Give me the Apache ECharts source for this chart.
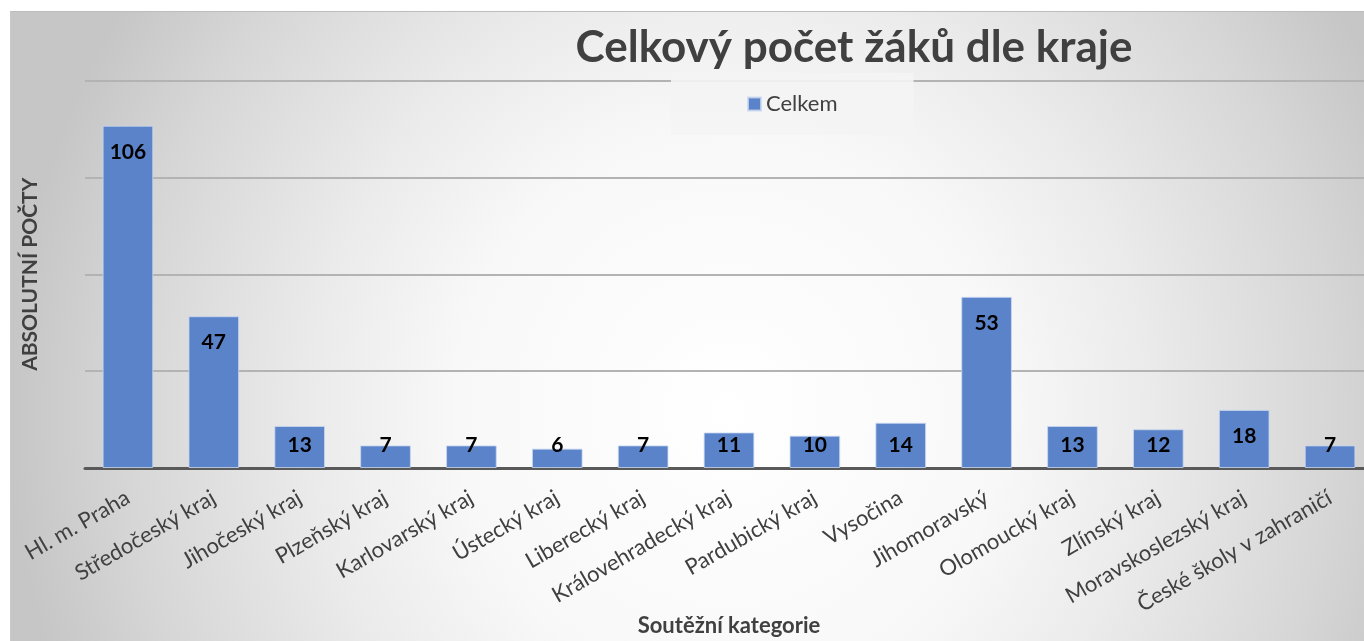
<!DOCTYPE html>
<html>
<head>
<meta charset="utf-8">
<script src="https://cdn.jsdelivr.net/npm/echarts@6/dist/echarts.min.js"></script>
<style>
html,body{margin:0;padding:0;width:1364px;height:641px;overflow:hidden;background:#fff;}
#chart{position:absolute;left:10px;top:11px;width:1364px;height:630px;
background:radial-gradient(ellipse 720px 750px at 720px 400px, #ffffff 0%, #f8f8f8 38%, #ebebeb 58%, #d6d6d6 84%, #c6c6c6 100%);
box-shadow: inset 0 1px 0 #bdbdbd, inset 1px 0 0 #c9c9c9;}
</style>
</head>
<body>
<div id="chart"></div>
<script>
const categories = ["Hl. m. Praha","Středočeský kraj","Jihočeský kraj","Plzeňský kraj","Karlovarský kraj","Ústecký kraj","Liberecký kraj","Královehradecký kraj","Pardubický kraj","Vysočina","Jihomoravský","Olomoucký kraj","Zlínský kraj","Moravskoslezský kraj","České školy v zahraničí"];
const celkem = [106,47,13,7,7,6,7,11,10,14,53,13,12,18,7];
const seriesName = "Celkem";
const titleText = "Celkový počet žáků dle kraje";
const yName = "ABSOLUTNÍ POČTY";
const xName = "Soutěžní kategorie";

const FONT = "Lato, 'Open Sans', sans-serif";
const chart = echarts.init(document.getElementById('chart'), null, {renderer:'canvas'});
const data = celkem.map(v => ({
  value: v,
  label: v >= 15 ? {position:'insideTop', distance:16} : {position:'insideBottom', distance:12}
}));
chart.setOption({
  animation:false,
  backgroundColor:'transparent',
  title:{
    text: titleText, left: 839, top: 10, textAlign:'center',
    textStyle:{fontFamily:FONT, fontSize:44, fontWeight:'bold', color:'#404040'}
  },
  legend:{
    data:[seriesName], left: 661, top: 62,
    padding:[20,76,20,76],
    backgroundColor:'rgba(244,244,244,0.9)',
    itemWidth:13, itemHeight:13, itemGap:5,
    icon:'rect',
    textStyle:{fontFamily:FONT, fontSize:22, color:'#404040'}
  },
  grid:{left:75, top:69.5, width:1288, height:387.5, containLabel:false, outerBoundsMode:'none'},
  xAxis:{
    type:'category', data:categories,
    name:xName, nameLocation:'middle', nameGap:147, nameMoveOverlap:false,
    nameTextStyle:{fontFamily:FONT, fontSize:22, fontWeight:'bold', color:'#404040'},
    axisLine:{lineStyle:{color:'#595959', width:3}},
    axisTick:{show:false},
    axisLabel:{rotate:30, margin:28, interval:0, fontFamily:FONT, fontSize:22, color:'#404040'}
  },
  yAxis:{
    type:'value', min:0, max:120, interval:30,
    name:yName, nameLocation:'middle', nameGap:44, nameRotate:90, nameMoveOverlap:false,
    nameTextStyle:{fontFamily:FONT, fontSize:21, fontWeight:'bold', color:'#404040'},
    axisLabel:{show:false}, axisLine:{show:false}, axisTick:{show:false},
    splitLine:{lineStyle:{color:'#b3b3b3', width:2}}
  },
  series:[{
    name:seriesName, type:'bar', data:data,
    barCategoryGap:'41%',
    itemStyle:{color:'#5b83c9', borderColor:'rgba(200,215,240,0.8)', borderWidth:1},
    label:{show:true, fontFamily:FONT, fontSize:21, fontWeight:'bold', color:'#000'}
  }]
});
</script>
</body>
</html>
